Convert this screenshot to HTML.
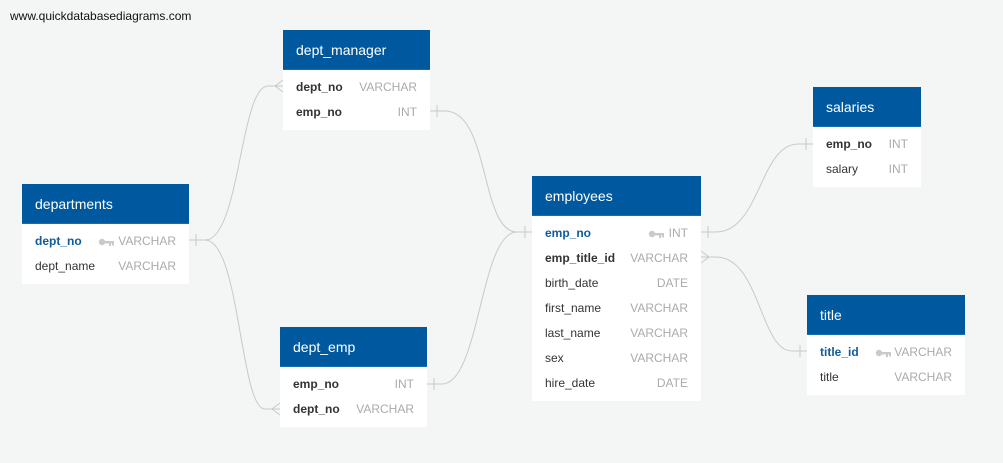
<!DOCTYPE html>
<html><head><style>
body{margin:0;width:1003px;height:463px;background:#f4f5f5;position:relative;overflow:hidden;font-family:"Liberation Sans",Arial,sans-serif}
.url{position:absolute;left:10px;top:9px;font-size:12px;color:#111}
.t{position:absolute;background:#fff}
.h{background:#00599f;color:#fff;font-size:14px;height:40px;line-height:40px;padding-left:13px;border-bottom:1px solid #1a6cb0;box-sizing:border-box}
.b{padding:5px 13px 5px 13px}
.r{height:25px;line-height:25px;font-size:12px;position:relative;color:#333}
.r .ty{position:absolute;right:0;top:0;color:#a9abae}
.r .k{position:absolute;top:9px;width:16px;height:8px}
.pk{color:#0f5b9c;font-weight:bold}
.fk{font-weight:bold;color:#333}
svg.lines{position:absolute;left:0;top:0}
</style></head><body>
<div class="url">www.quickdatabasediagrams.com</div>
<svg class="lines" width="1003" height="463" fill="none" stroke="#c8c9ca" stroke-width="1">
<path d="M189 240 H205 C240 240 240 86 268 86 H283"/>
<path d="M189 240 H205 C240 240 240 409 265 409 H280"/>
<path d="M430 111 H445 C490 111 480 232 517 232 H532"/>
<path d="M427 384 H442 C480 384 480 232 517 232 H532"/>
<path d="M701 232 H716 C760 232 760 144 798 144 H813"/>
<path d="M701 257 H716 C760 257 760 351 792 351 H807"/>
<path d="M196 234 V246 M437 105 V117 M434 378 V390 M525 226 V238 M708 226 V238 M806 138 V150 M800 345 V357"/>
<path d="M283 80 L275 86 L283 92 M280 403 L272 409 L280 415 M701 251 L709 257 L701 263"/>
</svg>
<svg width="0" height="0" style="position:absolute"><defs><g id="key"><circle cx="4" cy="4" r="3.2" fill="#c9cacc"/><rect x="6" y="3" width="10" height="2.4" fill="#c9cacc"/><rect x="11" y="4" width="2" height="4" fill="#c9cacc"/><rect x="14" y="4" width="2" height="3.5" fill="#c9cacc"/></g></defs></svg>

<div class="t" style="left:22px;top:184px;width:167px"><div class="h">departments</div><div class="b">
<div class="r"><span class="pk">dept_no</span><svg class="k" style="left:63px" viewBox="0 0 16 8"><use href="#key"/></svg><span class="ty">VARCHAR</span></div>
<div class="r">dept_name<span class="ty">VARCHAR</span></div></div></div>

<div class="t" style="left:283px;top:30px;width:147px"><div class="h">dept_manager</div><div class="b">
<div class="r"><span class="fk">dept_no</span><span class="ty">VARCHAR</span></div>
<div class="r"><span class="fk">emp_no</span><span class="ty">INT</span></div></div></div>

<div class="t" style="left:280px;top:327px;width:147px"><div class="h">dept_emp</div><div class="b">
<div class="r"><span class="fk">emp_no</span><span class="ty">INT</span></div>
<div class="r"><span class="fk">dept_no</span><span class="ty">VARCHAR</span></div></div></div>

<div class="t" style="left:532px;top:176px;width:169px"><div class="h">employees</div><div class="b">
<div class="r"><span class="pk">emp_no</span><svg class="k" style="left:103px" viewBox="0 0 16 8"><use href="#key"/></svg><span class="ty">INT</span></div>
<div class="r"><span class="fk">emp_title_id</span><span class="ty">VARCHAR</span></div>
<div class="r">birth_date<span class="ty">DATE</span></div>
<div class="r">first_name<span class="ty">VARCHAR</span></div>
<div class="r">last_name<span class="ty">VARCHAR</span></div>
<div class="r">sex<span class="ty">VARCHAR</span></div>
<div class="r">hire_date<span class="ty">DATE</span></div></div></div>

<div class="t" style="left:813px;top:87px;width:108px"><div class="h">salaries</div><div class="b">
<div class="r"><span class="fk">emp_no</span><span class="ty">INT</span></div>
<div class="r">salary<span class="ty">INT</span></div></div></div>

<div class="t" style="left:807px;top:295px;width:158px"><div class="h">title</div><div class="b">
<div class="r"><span class="pk">title_id</span><svg class="k" style="left:55px" viewBox="0 0 16 8"><use href="#key"/></svg><span class="ty">VARCHAR</span></div>
<div class="r">title<span class="ty">VARCHAR</span></div></div></div>
</body></html>
